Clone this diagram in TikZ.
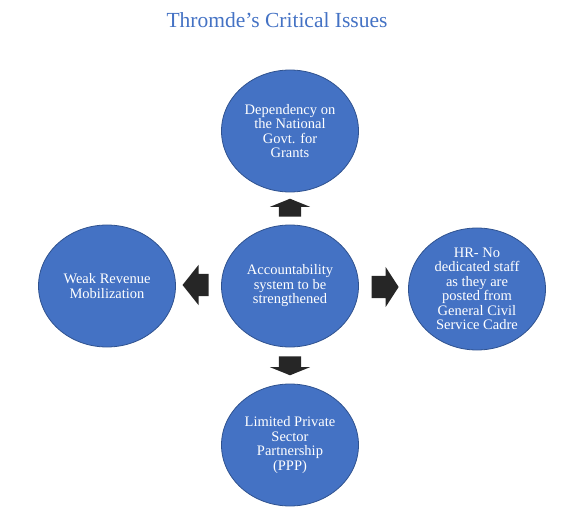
\documentclass[tikz,border=0pt]{standalone}
\usepackage{fontspec}
\setmainfont{Liberation Serif}
\usetikzlibrary{shapes.geometric,shapes.arrows}

\definecolor{issueblue}{HTML}{4472C4}
\definecolor{issueline}{HTML}{2F528F}
\definecolor{arrowgrey}{HTML}{262626}

\begin{document}
\begin{tikzpicture}[x=1pt,y=-1pt,
    issue/.style={ellipse,fill=issueblue,draw=issueline,line width=0.8pt,
        minimum width=137pt,minimum height=122pt,inner sep=0pt,
        text=white,align=center,font=\fontsize{14.5}{14.5}\selectfont},
    blockarrow/.style={single arrow,fill=arrowgrey,draw=none,inner xsep=0pt,
        inner ysep=11pt,single arrow head extend=9pt}]
            \useasboundingbox (0,0) rectangle (578,521);

            \node[text=issueblue,font=\fontsize{21.5}{24}\selectfont] (title) at (277,20) {Thromde’s Critical Issues};

            \node[issue] (centre) at (290,286) {Accountability\\system to be\\strengthened};
            \node[issue] (grants) at (290,131) {Dependency on\\the National\\Govt. for\\Grants};
            \node[issue] (revenue) at (107,286) {Weak Revenue\\Mobilization};
            \node[issue] (hr) at (477,289) {HR- No\\dedicated staff\\as they are\\posted from\\General Civil\\Service Cadre};
            \node[issue] (ppp) at (290,445) {Limited Private\\Sector\\Partnership\\(PPP)};

            \node[blockarrow,minimum height=18pt,single arrow tip angle=136,rotate=90] (up) at (290,210) {};
            \node[blockarrow,minimum height=19pt,single arrow tip angle=136,rotate=-90] (down) at (290,363.5) {};
            \node[blockarrow,minimum height=26pt,single arrow tip angle=103,rotate=180] (left) at (200,285) {};
            \node[blockarrow,minimum height=27pt,single arrow tip angle=114] (right) at (381.5,287) {};
        \end{tikzpicture}
\end{document}
